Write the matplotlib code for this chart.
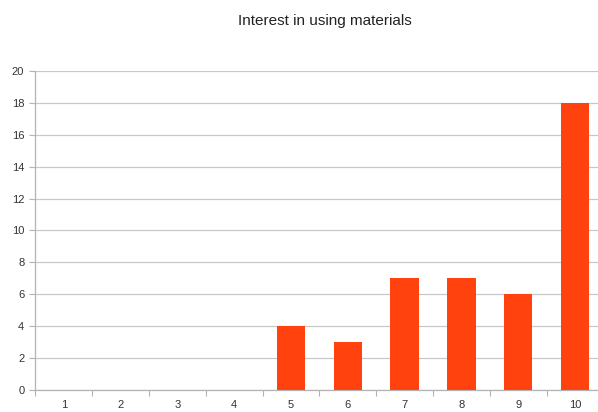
import numpy as np
import matplotlib
matplotlib.use("Agg")
import matplotlib.pyplot as plt

categories = ['1', '2', '3', '4', '5', '6', '7', '8', '9', '10']
values = [0, 0, 0, 0, 4, 3, 7, 7, 6, 18]
y_ticks = [0, 2, 4, 6, 8, 10, 12, 14, 16, 18, 20]

plt.rcParams['font.family'] = ['Liberation Sans', 'DejaVu Sans']

fig = plt.figure(figsize=(5.98, 4.12), dpi=100)
ax = fig.add_axes([0.0592, 0.0534, 0.950, 0.7743])

x = np.arange(1, len(categories) + 1)
ax.bar(x, values, width=0.5, color='#FF420E', zorder=3)

ax.set_xlim(0.5, len(categories) + 0.5)
ax.set_ylim(0, 20)
ax.set_yticks(y_ticks)
ax.set_xticks(x)
ax.set_xticklabels(categories)
ax.set_xticks(np.arange(0.5, len(categories) + 1, 1), minor=True)

# light grey grid and axis lines like the original
ax.grid(axis='y', color='#c8c8c8', linewidth=0.9, zorder=0)
for s in ['top', 'right']:
    ax.spines[s].set_visible(False)
for s in ['left', 'bottom']:
    ax.spines[s].set_color('#b3b3b3')
    ax.spines[s].set_linewidth(0.9)

ax.tick_params(axis='x', which='major', length=0, pad=7.5, labelsize=8, labelcolor='#333333')
ax.tick_params(axis='x', which='minor', length=4, color='#b3b3b3', width=0.8)
ax.tick_params(axis='y', length=4, color='#b3b3b3', width=0.8, pad=4, labelsize=8, labelcolor='#333333')

fig.text(0.543, 0.948, 'Interest in using materials', ha='center', va='center', fontsize=11, color='#222222')

fig.savefig('out.png', dpi=100)
